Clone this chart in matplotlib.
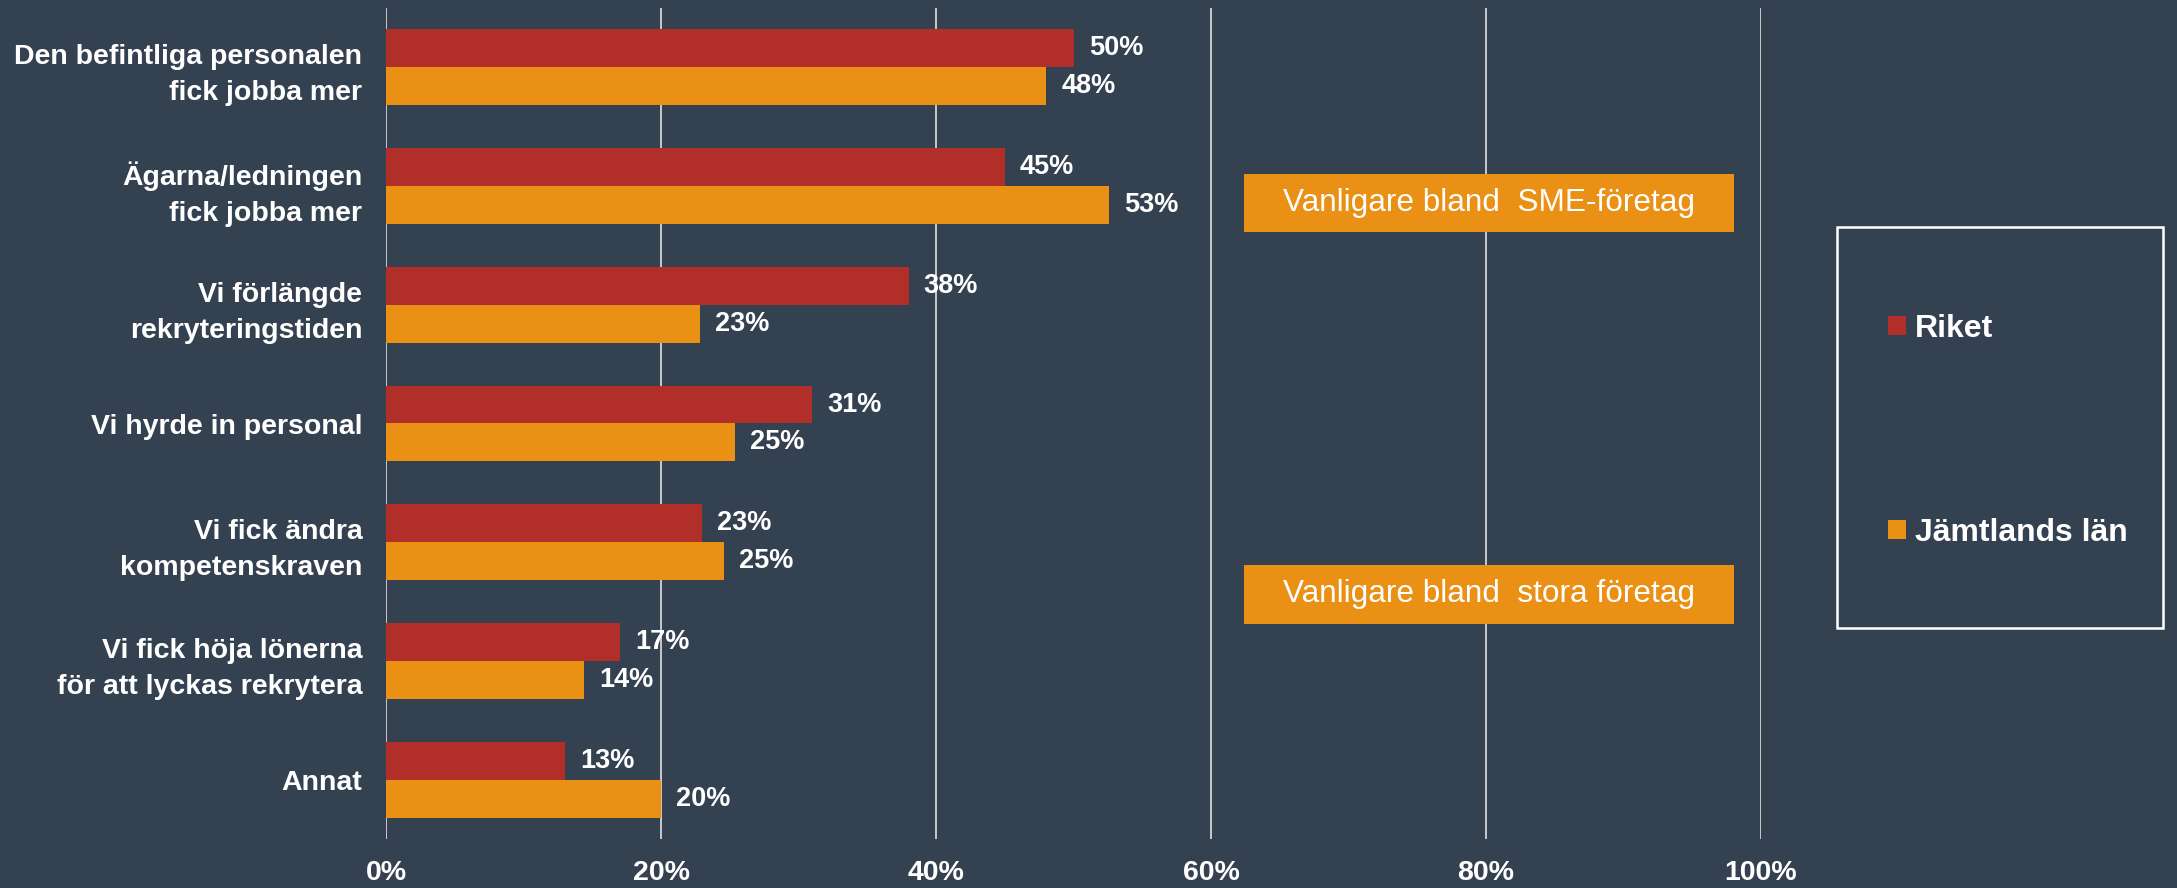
import matplotlib
matplotlib.use("Agg")
import matplotlib.pyplot as plt
import numpy as np
from matplotlib.patches import Rectangle

categories = [
    "Den befintliga personalen\nfick jobba mer",
    "Ägarna/ledningen\nfick jobba mer",
    "Vi förlängde\nrekryteringstiden",
    "Vi hyrde in personal",
    "Vi fick ändra\nkompetenskraven",
    "Vi fick höja lönerna\nför att lyckas rekrytera",
    "Annat",
]
riket = [50, 45, 38, 31, 23, 17, 13]
jamtland = [48, 52.6, 22.8, 25.4, 24.6, 14.4, 20]
series_names = ["Riket", "Jämtlands län"]
xticks = [0, 20, 40, 60, 80, 100]
xtick_labels = ["0%", "20%", "40%", "60%", "80%", "100%"]
annotations = ["Vanligare bland  SME-företag", "Vanligare bland  stora företag"]

BG = "#344150"
RED = "#B22E28"
ORANGE = "#EA9014"
GRID = "#D4D4D4"
FONT = ["Liberation Sans", "DejaVu Sans"]

plt.rcParams["font.family"] = FONT

fig = plt.figure(figsize=(21.77, 8.88), dpi=100, facecolor=BG)
ax = fig.add_axes([386 / 2177, 49 / 888, (1761 - 386) / 2177, (839 - 8) / 888])
ax.set_facecolor(BG)

y = np.arange(len(categories))
h = 0.32
b1 = ax.barh(y - h / 2, riket, height=h, color=RED, label=series_names[0], zorder=3)
b2 = ax.barh(y + h / 2, jamtland, height=h, color=ORANGE, label=series_names[1], zorder=3)

for bars, vals in ((b1, riket), (b2, jamtland)):
    for rect, v in zip(bars, vals):
        ax.text(v + 1.1, rect.get_y() + rect.get_height() / 2, f"{round(v)}%",
                va="center", ha="left", color="white", fontsize=19.5, fontweight="bold",
                zorder=4)

ax.set_ylim(len(categories) - 0.5, -0.5)
ax.set_xlim(0, 100)
ax.set_yticks(y)
ax.set_yticklabels(categories, color="white", fontsize=20.5, fontweight="bold",
                   linespacing=1.5)
ax.set_xticks(xticks)
ax.set_xticklabels(xtick_labels, color="white", fontsize=20.5, fontweight="bold")
ax.tick_params(axis="both", length=0)
ax.tick_params(axis="y", pad=17)
ax.tick_params(axis="x", pad=15)
for s in ax.spines.values():
    s.set_visible(False)
ax.xaxis.grid(True, color=GRID, linewidth=1.3, zorder=0)
ax.set_axisbelow(True)

# annotation boxes
box_specs = [(1.14, annotations[0]), (4.44, annotations[1])]
x0, x1 = 62.4, 98.0
bh = 0.49
for yc, txt in box_specs:
    ax.add_patch(Rectangle((x0, yc - bh / 2), x1 - x0, bh, facecolor=ORANGE,
                           edgecolor="none", zorder=5))
    ax.text((x0 + x1) / 2, yc, txt, ha="center", va="center", color="white",
            fontsize=22.7, zorder=6)

# legend
fig.patches.append(Rectangle((1837 / 2177, (888 - 628) / 888), (2163 - 1837) / 2177,
                             (628 - 227) / 888, transform=fig.transFigure,
                             facecolor="none", edgecolor="white", linewidth=1.8))
leg = ax.legend(handles=[b1, b2], loc="center left",
                bbox_to_anchor=(1872 / 2177, (888 - 431) / 888),
                bbox_transform=fig.transFigure, frameon=False,
                fontsize=23, handlelength=0.55, handleheight=0.55,
                handletextpad=0.3, labelspacing=5.45, borderpad=0)
for t in leg.get_texts():
    t.set_color("white")
    t.set_fontweight("bold")

fig.savefig("out.png", dpi=100, facecolor=BG)
